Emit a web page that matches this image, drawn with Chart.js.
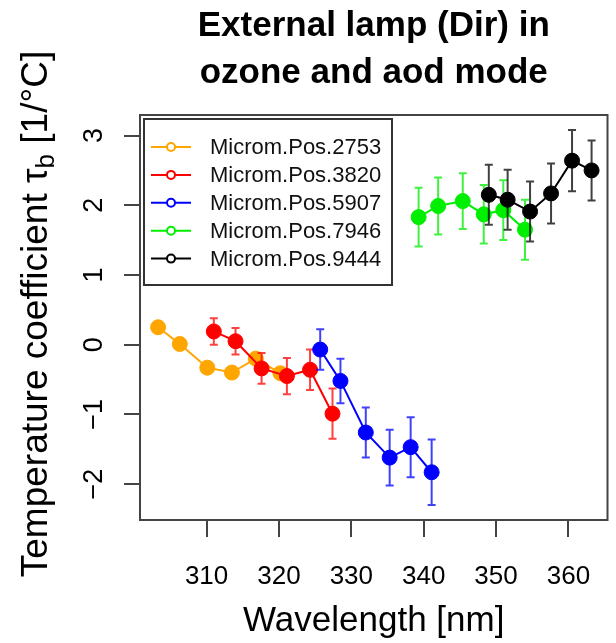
<!DOCTYPE html>
<html>
<head>
<meta charset="utf-8">
<script src="https://cdn.jsdelivr.net/npm/chart.js@4.4.1/dist/chart.umd.min.js"></script>
<style>
  html, body { margin: 0; padding: 0; background: #fff; }
  canvas { display: block; }
</style>
</head>
<body>
<canvas id="tempChart" width="616" height="643"></canvas>
<script>
// wavelength [nm] and temperature coefficient per micrometer position
const seriesNames = ["Microm.Pos.2753", "Microm.Pos.3820", "Microm.Pos.5907", "Microm.Pos.7946", "Microm.Pos.9444"];

const wl2753 = [303.3, 306.3, 310.1, 313.5, 316.8, 320.2];
const tau2753 = [0.25, 0.01, -0.33, -0.40, -0.20, -0.41];

const wl3820 = [311.0, 314.0, 317.6, 321.1, 324.3, 327.4];
const tau3820 = [0.19, 0.05, -0.34, -0.45, -0.36, -0.99];
const err3820 = [0.19, 0.19, 0.22, 0.26, 0.29, 0.36];

const wl5907 = [325.7, 328.5, 332.0, 335.3, 338.2, 341.1];
const tau5907 = [-0.07, -0.52, -1.26, -1.62, -1.47, -1.83];
const err5907 = [0.29, 0.32, 0.36, 0.40, 0.43, 0.47];

const wl7946 = [339.3, 342.0, 345.4, 348.3, 351.0, 354.0];
const tau7946 = [1.83, 1.99, 2.06, 1.87, 1.93, 1.65];
const err7946 = [0.42, 0.41, 0.40, 0.42, 0.43, 0.43];

const wl9444 = [349.0, 351.6, 354.7, 357.6, 360.5, 363.2];
const tau9444 = [2.15, 2.08, 1.91, 2.17, 2.64, 2.50];
const err9444 = [0.43, 0.43, 0.43, 0.43, 0.44, 0.43];

const xTicks = [310, 320, 330, 340, 350, 360];
const yTickLabels = ["\u22122", "\u22121", "0", "1", "2", "3"];

const wavelengths = [wl2753, wl3820, wl5907, wl7946, wl9444];
const taus = [tau2753, tau3820, tau5907, tau7946, tau9444];
const errors = [null, err3820, err5907, err7946, err9444];
const colors = ["#FFA500", "#FF0000", "#0000FF", "#00EE00", "#000000"];

const FONT = "'Liberation Sans', Arial, Helvetica, sans-serif";
const AXIS_COLOR = "#444";

const datasets = seriesNames.map((name, i) => ({
  label: name,
  data: wavelengths[i].map((x, j) => ({ x: x, y: taus[i][j] })),
  borderColor: colors[i],
  backgroundColor: colors[i],
  showLine: true,
  borderWidth: 2,
  pointRadius: 7.5,
  pointHoverRadius: 7.5,
  pointBorderWidth: 1,
  tension: 0,
  order: seriesNames.length - i   // later series on top
}));

// vertical error bars, drawn under each series' points
const errorBars = {
  id: "errorBars",
  beforeDatasetDraw(chart, args) {
    const errs = errors[args.index];
    if (!errs) return;
    const xs = chart.scales.x, ys = chart.scales.y, ctx = chart.ctx;
    ctx.save();
    ctx.strokeStyle = colors[args.index];
    ctx.globalAlpha = 0.75;
    ctx.lineWidth = 2;
    wavelengths[args.index].forEach((wl, j) => {
      const px = xs.getPixelForValue(wl);
      const top = ys.getPixelForValue(taus[args.index][j] + errs[j]);
      const bot = ys.getPixelForValue(taus[args.index][j] - errs[j]);
      ctx.beginPath();
      ctx.moveTo(px, top); ctx.lineTo(px, bot);
      ctx.moveTo(px - 4, top); ctx.lineTo(px + 4, top);
      ctx.moveTo(px - 4, bot); ctx.lineTo(px + 4, bot);
      ctx.stroke();
    });
    ctx.restore();
  }
};

// frame, titles, rotated y labels and legend
const decorations = {
  id: "decorations",
  afterDraw(chart) {
    const ctx = chart.ctx, a = chart.chartArea;
    const cx = (a.left + a.right) / 2;
    ctx.save();

    ctx.strokeStyle = AXIS_COLOR;
    ctx.lineWidth = 2;
    ctx.strokeRect(a.left, a.top, a.right - a.left, a.bottom - a.top);

    ctx.fillStyle = "#000";
    ctx.textAlign = "center";
    ctx.textBaseline = "alphabetic";
    ctx.font = "bold 35px " + FONT;
    ctx.fillText("External lamp (Dir) in", cx, 36);
    ctx.fillText("ozone and aod mode", cx, 83);

    ctx.font = "35px " + FONT;
    ctx.fillText("Wavelength [nm]", cx, 631);

    // y tick labels, rotated like the axis title
    const ys = chart.scales.y;
    ctx.font = "27px " + FONT;
    ys.ticks.forEach((t, k) => {
      ctx.save();
      ctx.translate(102, ys.getPixelForValue(t.value));
      ctx.rotate(-Math.PI / 2);
      ctx.fillText(yTickLabels[k], 0, 0);
      ctx.restore();
    });

    // y title with subscript b
    ctx.save();
    ctx.translate(47, 314);
    ctx.rotate(-Math.PI / 2);
    ctx.textAlign = "left";
    const big = "37px " + FONT, small = "26px " + FONT;
    const p1 = "Temperature coefficient \u03C4", p2 = "b", p3 = " [1/\u00B0C]";
    ctx.font = big; const w1 = ctx.measureText(p1).width, w3 = ctx.measureText(p3).width;
    ctx.font = small; const w2 = ctx.measureText(p2).width;
    let x0 = -(w1 + w2 + w3) / 2;
    ctx.font = big; ctx.fillText(p1, x0, 0); x0 += w1;
    ctx.font = small; ctx.fillText(p2, x0, 7); x0 += w2;
    ctx.font = big; ctx.fillText(p3, x0, 0);
    ctx.restore();

    // legend box
    const lx = 144, ly = 119, lw = 248, lh = 166;
    ctx.fillStyle = "#fff";
    ctx.fillRect(lx, ly, lw, lh);
    ctx.strokeStyle = "#333";
    ctx.lineWidth = 2;
    ctx.strokeRect(lx, ly, lw, lh);
    ctx.font = "22px " + FONT;
    ctx.textAlign = "left";
    ctx.textBaseline = "middle";
    chart.data.datasets.forEach((ds, i) => {
      const y = 147 + i * 27.9;
      ctx.strokeStyle = ds.borderColor;
      ctx.lineWidth = 2;
      ctx.beginPath();
      ctx.moveTo(151, y); ctx.lineTo(167, y);
      ctx.moveTo(175, y); ctx.lineTo(191, y);
      ctx.stroke();
      ctx.beginPath();
      ctx.arc(171, y, 4, 0, Math.PI * 2);
      ctx.stroke();
      ctx.fillStyle = "#111";
      ctx.fillText(ds.label, 210, y + 1);
    });
    ctx.restore();
  }
};

new Chart(document.getElementById("tempChart"), {
  type: "scatter",
  data: { datasets: datasets },
  plugins: [errorBars, decorations],
  options: {
    responsive: false,
    devicePixelRatio: 1,
    animation: false,
    layout: { padding: { top: 115, right: 2, left: 0, bottom: 0 } },
    plugins: {
      legend: { display: false },
      title: { display: false },
      tooltip: { enabled: false }
    },
    scales: {
      x: {
        type: "linear",
        min: 300.8,
        max: 365.4,
        afterFit(scale) { scale.height = 123; },
        afterBuildTicks(scale) { scale.ticks = xTicks.map(v => ({ value: v })); },
        ticks: {
          includeBounds: false,
          stepSize: 10,
          autoSkip: false,
          maxRotation: 0,
          color: "#000",
          padding: 24,
          font: { family: FONT, size: 26 }
        },
        grid: { drawOnChartArea: false, drawTicks: true, tickLength: 17, color: AXIS_COLOR, lineWidth: 2 },
        border: { display: false }
      },
      y: {
        type: "linear",
        min: -2.515,
        max: 3.295,
        afterFit(scale) { scale.width = 140; },
        ticks: { includeBounds: false, stepSize: 1, display: false },
        grid: { drawOnChartArea: false, drawTicks: true, tickLength: 16, color: AXIS_COLOR, lineWidth: 2 },
        border: { display: false }
      }
    }
  }
});
</script>
</body>
</html>
